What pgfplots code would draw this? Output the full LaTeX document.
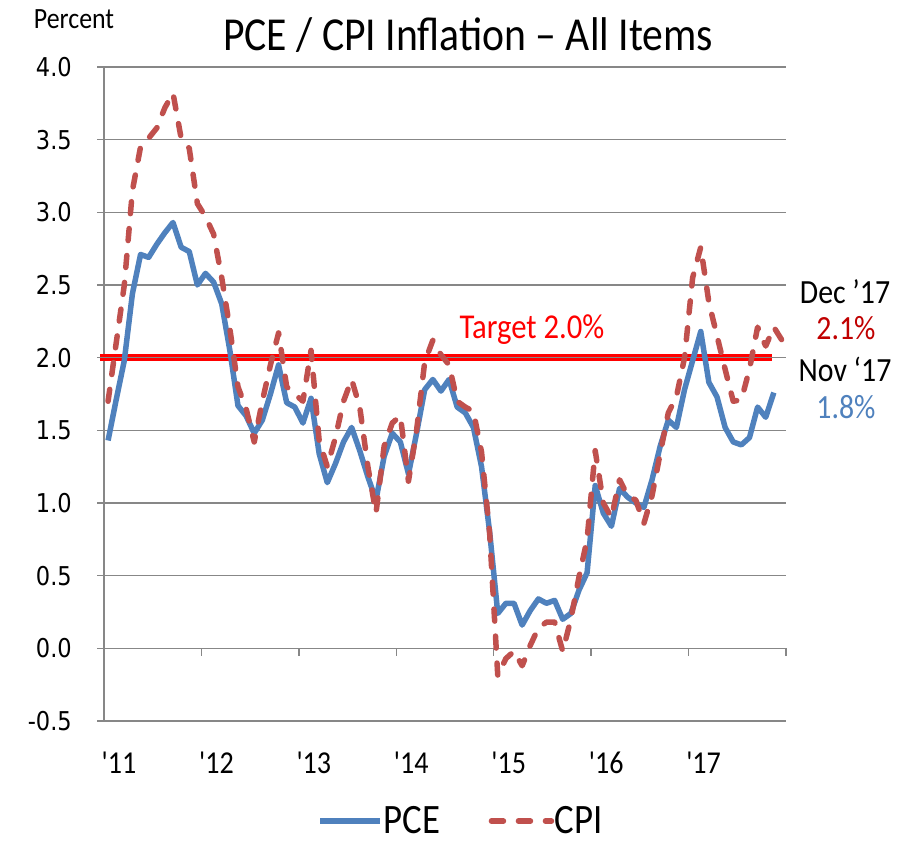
\documentclass[border=0pt]{standalone}
\usepackage{fontspec}
\usepackage{pgfplots}
\usepackage{pgfplotstable}
\pgfplotsset{compat=1.18}
\setmainfont[FakeStretch=0.88]{Carlito}
\newfontfamily\xfont[FakeStretch=0.88,Ligatures=TeXOff]{Carlito}
\newfontfamily\tickfont[FakeStretch=0.87]{DejaVu Sans}
\definecolor{pceblue}{HTML}{4F81BD}
\definecolor{cpired}{HTML}{C0504D}
\definecolor{gridgray}{HTML}{878787}
\definecolor{darkred}{HTML}{C00000}
\definecolor{tgtred}{HTML}{FF0000}

\pgfplotstableread{
m pce
0 1.43
1 1.71
2 1.98
3 2.44
4 2.71
5 2.69
6 2.78
7 2.86
8 2.93
9 2.76
10 2.73
11 2.50
12 2.58
13 2.52
14 2.37
15 2.05
16 1.67
17 1.60
18 1.48
19 1.57
20 1.75
21 1.95
22 1.69
23 1.66
24 1.55
25 1.72
26 1.34
27 1.14
28 1.27
29 1.42
30 1.52
31 1.36
32 1.18
33 1.02
34 1.32
35 1.48
36 1.42
37 1.20
38 1.48
39 1.78
40 1.85
41 1.77
42 1.85
43 1.66
44 1.62
45 1.52
46 1.25
47 0.80
48 0.24
49 0.31
50 0.31
51 0.16
52 0.26
53 0.34
54 0.31
55 0.33
56 0.20
57 0.24
58 0.40
59 0.52
60 1.12
61 0.93
62 0.84
63 1.10
64 1.04
65 1.00
66 0.97
67 1.16
68 1.39
69 1.57
70 1.52
71 1.78
72 1.98
73 2.18
74 1.83
75 1.73
76 1.52
77 1.42
78 1.40
79 1.45
80 1.66
81 1.59
82 1.76
}\pcedata

\pgfplotstableread{
m cpi
0 1.70
1 2.10
2 2.50
3 3.15
4 3.45
5 3.51
6 3.58
7 3.72
8 3.82
9 3.51
10 3.44
11 3.06
12 2.97
13 2.85
14 2.55
15 2.20
16 1.80
17 1.65
18 1.42
19 1.70
20 1.95
21 2.17
22 1.80
23 1.75
24 1.70
25 2.05
26 1.43
27 1.25
28 1.45
29 1.70
30 1.85
31 1.66
32 1.25
33 0.93
34 1.39
35 1.55
36 1.60
37 1.15
38 1.50
39 1.97
40 2.12
41 2.02
42 1.95
43 1.70
44 1.66
45 1.63
46 1.35
47 0.79
48 -0.19
49 -0.07
50 -0.02
51 -0.12
52 0.02
53 0.14
54 0.18
55 0.18
56 -0.02
57 0.20
58 0.49
59 0.75
60 1.36
61 1.00
62 0.90
63 1.16
64 1.05
65 1.02
66 0.86
67 1.05
68 1.34
69 1.62
70 1.73
71 2.00
72 2.55
73 2.76
74 2.38
75 2.15
76 1.92
77 1.70
78 1.71
79 1.92
80 2.21
81 2.08
82 2.21
83 2.12
}\cpidata

\begin{document}
\begin{tikzpicture}[x=1bp,y=1bp]
\useasboundingbox (0,0) rectangle (908,841);
\begin{axis}[
  at={(104bp,120bp)}, anchor=south west,
  scale only axis, width=682bp, height=654bp,
  xmin=-0.5, xmax=83.5, ymin=-0.5, ymax=4,
  clip=false,
  axis lines=left,
  axis line style={-, draw=gridgray, line width=1.5bp},
  ymajorgrids, grid style={draw=gridgray, line width=1.5bp},
  ytick={-0.5,0,0.5,1,1.5,2,2.5,3,3.5,4},
  yticklabels={-0.5,0.0,0.5,1.0,1.5,2.0,2.5,3.0,3.5,4.0},
  ytick style={draw=gridgray, line width=1.5bp},
  ytick align=outside, major tick length=7bp,
  yticklabel style={font=\tickfont\fontsize{26}{30}\selectfont, anchor=east, inner sep=0pt, xshift=-25bp},
  xtick={-0.5,11.5,23.5,35.5,47.5,59.5,71.5},
  xticklabels={'11,'12,'13,'14,'15,'16,'17},
  xtick style={draw=none},
  xticklabel style={font=\xfont\fontsize{32}{36}\selectfont, anchor=north, inner sep=0pt, yshift=-27bp, xshift=15bp},
  legend columns=2,
  legend style={draw=none, fill=none, at={(0.5225,-0.153)}, anchor=center,
    font=\fontsize{42}{44}\selectfont, inner sep=0pt,
    nodes={inner sep=0.5bp},
    /tikz/every odd column/.append style={column sep=0bp},
    /tikz/every even column/.append style={column sep=48bp}},
  legend image code/.code={\draw[#1] (0bp,0bp) -- (60bp,0bp);},
]
% target band
\draw[tgtred, line width=7bp] (axis cs:-0.99,2) -- (axis cs:81.8,2);
\draw[gridgray, line width=1.5bp] (axis cs:-0.99,2) -- (axis cs:81.8,2);
% x ticks on the zero line
\pgfplotsinvokeforeach{11.5,23.5,35.5,47.5,59.5,71.5,83.5}{
  \draw[gridgray, line width=1.5bp] (axis cs:#1,0) -- ++(0bp,-8bp);
}
\addplot[pceblue, line width=5.5bp, line join=round] table[x=m, y=pce] {\pcedata};
\addlegendentry{PCE}
\addplot[cpired, line width=5.5bp, line cap=round, line join=round, dash pattern=on 12bp off 15bp] table[x=m, y=cpi] {\cpidata};
\addlegendentry{CPI}
\end{axis}
\node[font=\fontsize{47.5}{52}\selectfont] at (468,806) {PCE / CPI Inflation – All Items};
\node[font=\fontsize{29.5}{33}\selectfont] at (74,822) {Percent};
\node[font=\fontsize{35}{40}\selectfont, text=tgtred] at (532,511) {Target 2.0\%};
\node[font=\fontsize{34}{38}\selectfont] at (845,549) {Dec ’17};
\node[font=\fontsize{34}{38}\selectfont, text=darkred] at (846,513) {2.1\%};
\node[font=\fontsize{34}{38}\selectfont] at (845,472) {Nov ‘17};
\node[font=\fontsize{34}{38}\selectfont, text=pceblue] at (846,434) {1.8\%};
\end{tikzpicture}
\end{document}
